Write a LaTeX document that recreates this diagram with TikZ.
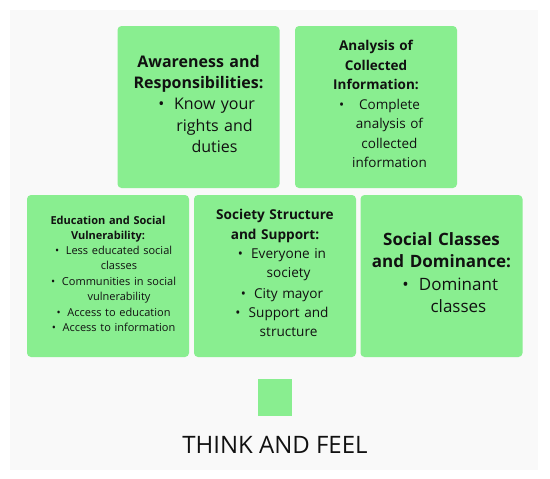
\documentclass[tikz,border=0pt]{standalone}
\usepackage{fontspec}
\setmainfont{Open Sans}
\definecolor{boxgreen}{RGB}{137,238,144}
\definecolor{bggrey}{RGB}{249,249,249}
\definecolor{ink}{RGB}{17,17,17}
\newcommand\itm[1]{\hspace*{2em}\makebox[0pt][r]{\textbullet\hspace{0.6em}}\begin{tabular}[t]{@{}c@{}}#1\end{tabular}}

\begin{document}
\begin{tikzpicture}[x=1pt, y=-1pt,
  box/.style={fill=boxgreen, rounded corners=4pt, inner sep=0pt,
    minimum width=162pt, minimum height=162pt, text width=158pt,
    align=center, text=ink}]
  \useasboundingbox (0,0) rectangle (550,479);
  % Background panel
  \fill[bggrey] (10,10) rectangle (538,470);
  % Top row
  \node[box, font=\fontsize{16}{21.3}\selectfont] (aware) at (198.5,107)
    {{\bfseries Awareness and\\Responsibilities:}\\
     \itm{Know your\\rights and\\duties}};
  \node[box, font=\fontsize{13.5}{19.5}\selectfont] (analysis) at (376,107)
    {{\bfseries Analysis of\\Collected\\Information:}\\
     \itm{Complete\\analysis of\\collected\\information}};
  % Bottom row
  \node[box, font=\fontsize{11}{15}\selectfont] (educ) at (108,276)
    {{\bfseries Education and Social\\Vulnerability:}\\
     \itm{Less educated social\\classes}\\
     \itm{Communities in social\\vulnerability}\\
     \itm{Access to education}\\
     \itm{Access to information}};
  \node[box, font=\fontsize{13.6}{19.3}\selectfont] (society) at (275,276)
    {{\bfseries Society Structure\\and Support:}\\
     \itm{Everyone in\\society}\\
     \itm{City mayor}\\
     \itm{Support and\\structure}};
  \node[box, font=\fontsize{17}{22.5}\selectfont] (classes) at (441.5,276)
    {{\bfseries Social Classes\\and Dominance:}\\
     \itm{Dominant\\classes}};
  % Key
  \node[fill=boxgreen, inner sep=0pt, minimum width=34pt, minimum height=37pt] (key) at (275,397.5) {};
  \node[font=\fontsize{24}{28}\selectfont, text=ink, anchor=base] (keylabel) at (275,453) {THINK AND FEEL};
\end{tikzpicture}
\end{document}
